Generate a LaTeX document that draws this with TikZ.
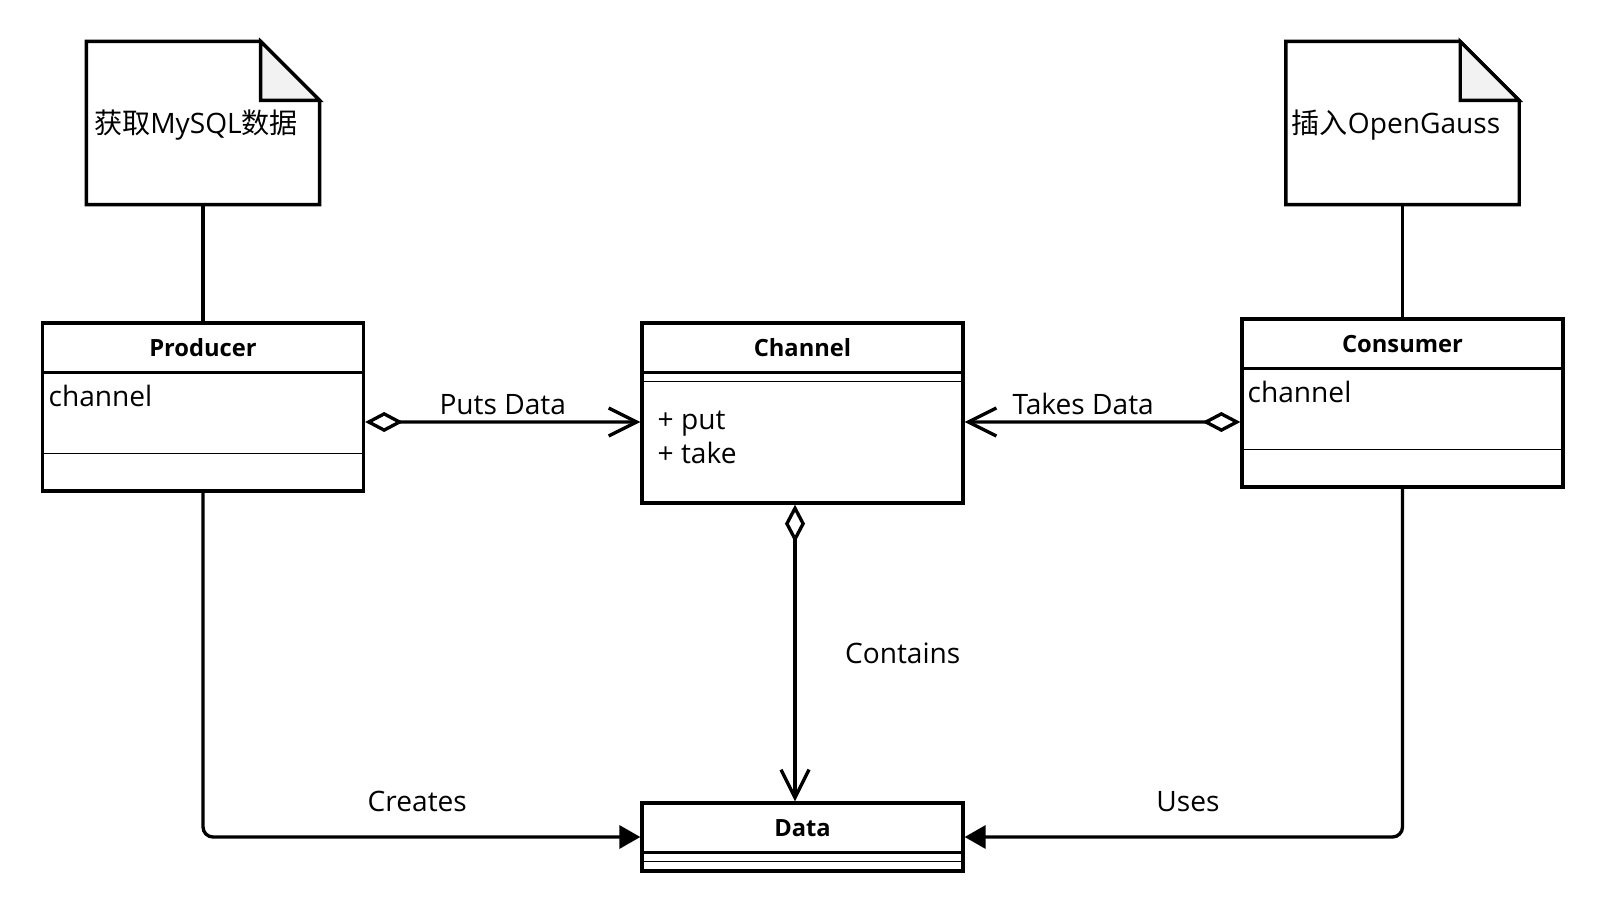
\documentclass[tikz,border=0pt]{standalone}
\usepackage{fontspec}
\setmainfont{Open Sans}
\newfontfamily\cjk{Noto Sans CJK SC}
\usetikzlibrary{arrows.meta}
\definecolor{foldgray}{RGB}{242,242,242}

\begin{document}
\begin{tikzpicture}[x=0.02cm, y=-0.02cm, line width=1.9pt,
    every node/.style={font=\fontsize{16}{19.3}\selectfont},
    classbox/.style={draw, rectangle, minimum width=6.42cm, inner sep=0pt},
    classname/.style={font=\fontsize{13.5}{16}\selectfont\bfseries},
    thinline/.style={line width=0.9pt},
    notebox/.style={minimum width=4.6cm, minimum height=3.2cm, inner sep=0pt},
    aggr/.style={{Diamond[open, length=0.76cm, width=0.4cm]}-{Straight Barb[length=0.56cm, width=0.56cm]}},
    assoc/.style={-{Triangle[length=0.42cm, width=0.46cm]}, rounded corners=0.2cm}]

		% Draw the background
		\fill[white] (0,0) rectangle (1604,912);

		% Draw the notes
		\node[notebox] (mysql) at (203,123) {};
		\draw[fill=white] (mysql.south west) -- (mysql.north west) -- ([xshift=-1.18cm]mysql.north east) -- ([yshift=-1.18cm]mysql.north east) -- (mysql.south east) -- cycle;
		\draw[fill=foldgray] ([xshift=-1.18cm]mysql.north east) |- ([yshift=-1.18cm]mysql.north east) -- cycle;
		\node (mysqltext) at (196,125) {{\cjk 获取}MySQL{\cjk 数据}};

		\node[notebox] (gauss) at (1402.5,123) {};
		\draw[fill=white] (gauss.south west) -- (gauss.north west) -- ([xshift=-1.18cm]gauss.north east) -- ([yshift=-1.18cm]gauss.north east) -- (gauss.south east) -- cycle;
		\draw[fill=foldgray] ([xshift=-1.18cm]gauss.north east) |- ([yshift=-1.18cm]gauss.north east) -- cycle;
		\node (gausstext) at (1396,125) {{\cjk 插入}OpenGauss};

		% Draw the class boxes
		\node[classbox, minimum height=3.36cm] (producer) at (203,407) {};
		\node[classname] (producername) at ([yshift=-0.52cm]producer.north) {Producer};
		\draw ([yshift=-1.02cm]producer.north west) -- ([yshift=-1.02cm]producer.north east);
		\draw[thinline] ([yshift=0.78cm]producer.south west) -- ([yshift=0.78cm]producer.south east);
		\node[anchor=west, inner sep=0pt] (producerfield) at (47,396) {channel};

		\node[classbox, minimum height=3.6cm] (channel) at (802.5,413) {};
		\node[classname] (channelname) at ([yshift=-0.52cm]channel.north) {Channel};
		\draw ([yshift=-1.02cm]channel.north west) -- ([yshift=-1.02cm]channel.north east);
		\draw[thinline] ([yshift=-1.2cm]channel.north west) -- ([yshift=-1.2cm]channel.north east);
		\node[anchor=west, align=left, inner sep=0pt] (channelops) at (656,437) {+ put\\+ take};

		\node[classbox, minimum height=3.36cm] (consumer) at (1402.5,403) {};
		\node[classname] (consumername) at ([yshift=-0.54cm]consumer.north) {Consumer};
		\draw ([yshift=-1.02cm]consumer.north west) -- ([yshift=-1.02cm]consumer.north east);
		\draw[thinline] ([yshift=0.78cm]consumer.south west) -- ([yshift=0.78cm]consumer.south east);
		\node[anchor=west, inner sep=0pt] (consumerfield) at (1246,392) {channel};

		\node[classbox, minimum height=1.36cm] (data) at (802.5,837) {};
		\node[classname] (dataname) at ([yshift=-0.54cm]data.north) {Data};
		\draw ([yshift=-1.02cm]data.north west) -- ([yshift=-1.02cm]data.north east);
		\draw[thinline] ([yshift=-1.2cm]data.north west) -- ([yshift=-1.2cm]data.north east);

		% Draw the connectors
		\draw (mysql.south) -- (producer.north);
		\draw (gauss.south) -- (consumer.north);
		\draw[aggr] ([yshift=-0.3cm]producer.east) -- ([yshift=-0.18cm]channel.west) node[midway, above] {Puts Data};
		\draw[aggr] ([yshift=-0.38cm]consumer.west) -- ([yshift=-0.18cm]channel.east) node[pos=0.57, above] {Takes Data};
		\draw[aggr] ([xshift=-0.15cm]channel.south) -- ([xshift=-0.15cm]data.north) node[midway, right=0.85cm] {Contains};
		\draw[assoc] (producer.south) |- (data.west) node[pos=0.745, above=0.35cm] {Creates};
		\draw[assoc] (consumer.south) |- (data.east) node[pos=0.745, above=0.35cm] {Uses};

	\end{tikzpicture}
\end{document}
